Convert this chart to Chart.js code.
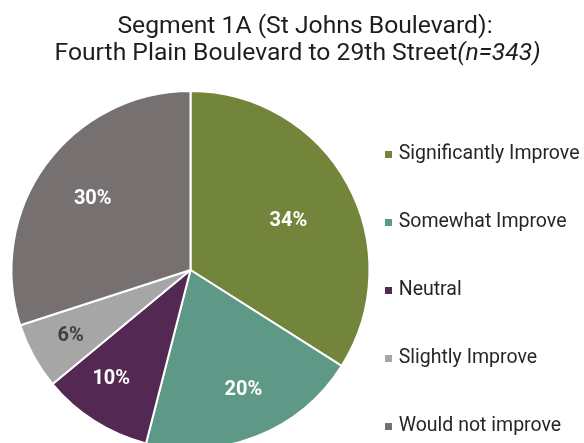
<!DOCTYPE html>
<html>
<head>
<meta charset="utf-8">
<script src="https://cdn.jsdelivr.net/npm/chart.js@4.4.1/dist/chart.umd.min.js"></script>
<style>
  html, body { margin: 0; padding: 0; background: #ffffff; }
  #frame { width: 584px; height: 443px; overflow: hidden; position: relative; }
  #chart { display: block; }
</style>
</head>
<body>
<div id="frame"><canvas id="chart" width="600" height="485"></canvas></div>
<script>
// Survey responses for segment 1A
const categories = ['Significantly Improve', 'Somewhat Improve', 'Neutral', 'Slightly Improve', 'Would not improve'];
const shares = [34, 20, 10, 6, 30];
const sliceColors = ['#72853B', '#5E9886', '#532852', '#A6A6A6', '#767170'];
const labelColors = ['#FFFFFF', '#FFFFFF', '#FFFFFF', '#404040', '#FFFFFF'];
// where each percentage sits inside its slice: [fraction of radius, angular nudge in degrees]
const labelPlacement = [[0.61, 2.4], [0.735, -2.1], [0.755, 3.5], [0.765, -0.2], [0.675, 0]];

const titleLine1 = 'Segment 1A (St Johns Boulevard):';
const titleLine2 = 'Fourth Plain Boulevard to 29th Street';
const titleSample = '(n=343)';

const FONT = 'Roboto, "Liberation Sans", sans-serif';
const TITLE_SIZE = 24.7;

const titlePlugin = {
  id: 'twoLineTitle',
  afterDraw(chart) {
    const ctx = chart.ctx;
    ctx.save();
    ctx.fillStyle = '#1E1E1E';
    ctx.textBaseline = 'alphabetic';
    ctx.font = TITLE_SIZE + 'px ' + FONT;
    ctx.textAlign = 'center';
    ctx.fillText(titleLine1, 305, 33);
    // second line: regular text followed by the italic sample size
    const w1 = ctx.measureText(titleLine2).width;
    ctx.font = 'italic ' + TITLE_SIZE + 'px ' + FONT;
    const w2 = ctx.measureText(titleSample).width;
    const start = 297.5 - (w1 + w2) / 2;
    ctx.textAlign = 'left';
    ctx.font = TITLE_SIZE + 'px ' + FONT;
    ctx.fillText(titleLine2, start, 60);
    ctx.font = 'italic ' + TITLE_SIZE + 'px ' + FONT;
    ctx.fillText(titleSample, start + w1, 60);
    ctx.restore();
  }
};

const sliceLabelPlugin = {
  id: 'sliceLabels',
  afterDatasetsDraw(chart) {
    const ctx = chart.ctx;
    const meta = chart.getDatasetMeta(0);
    const values = chart.data.datasets[0].data;
    ctx.save();
    ctx.font = 'bold 20px ' + FONT;
    ctx.textAlign = 'center';
    ctx.textBaseline = 'middle';
    meta.data.forEach((arc, i) => {
      const p = arc.getProps(['x', 'y', 'startAngle', 'endAngle', 'outerRadius'], true);
      const [frac, nudge] = labelPlacement[i];
      const mid = (p.startAngle + p.endAngle) / 2 + nudge * Math.PI / 180;
      const r = p.outerRadius * frac;
      ctx.fillStyle = labelColors[i];
      ctx.fillText(values[i] + '%', p.x + Math.cos(mid) * r, p.y + Math.sin(mid) * r);
    });
    ctx.restore();
  }
};

new Chart(document.getElementById('chart'), {
  type: 'pie',
  data: {
    labels: categories,
    datasets: [{
      data: shares,
      backgroundColor: sliceColors,
      borderColor: '#FFFFFF',
      borderWidth: 2,
      radius: 179,
      clip: false
    }]
  },
  options: {
    responsive: false,
    animation: false,
    layout: { padding: { top: 55.25, bottom: 0.25, left: 41.5, right: 10.5 } },
    plugins: {
      title: { display: false },
      tooltip: { enabled: false },
      legend: {
        position: 'right',
        align: 'end',
        labels: {
          usePointStyle: true,
          pointStyle: 'rect',
          boxWidth: 1,
          boxHeight: 7,
          padding: 48.5,
          color: '#262626',
          font: { family: FONT, size: 19.5 },
          generateLabels(chart) {
            const base = Chart.overrides.pie.plugins.legend.labels.generateLabels(chart);
            return base.map(item => Object.assign(item, { lineWidth: 0 }));
          }
        }
      }
    }
  },
  plugins: [titlePlugin, sliceLabelPlugin]
});
</script>
</body>
</html>
